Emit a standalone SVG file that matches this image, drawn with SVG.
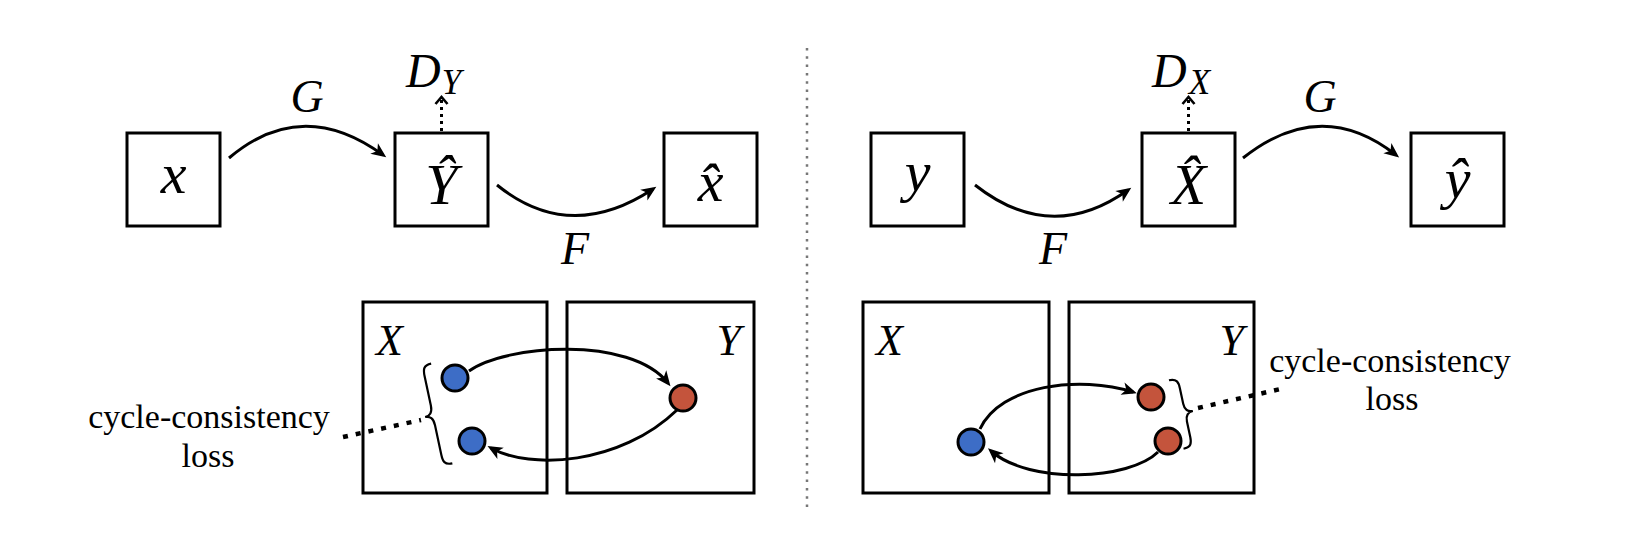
<svg xmlns="http://www.w3.org/2000/svg" width="1648" height="536" viewBox="0 0 1648 536">
<style>
.box{fill:none;stroke:#000;stroke-width:3}
.m{font-family:"Liberation Serif",serif;font-style:italic;fill:#000}
.big{font-size:58px}
.lab{font-size:46px}
.dl{font-size:48px}
.dom{font-size:44px}
.sub{font-size:35px}
.txt{font-family:"Liberation Serif",serif;font-size:34px;fill:#000}
.arr{fill:none;stroke:#000;stroke-width:3}
.dot{fill:none;stroke:#000;stroke-width:3;stroke-dasharray:3 4}
.loss{fill:none;stroke:#000;stroke-width:4.5;stroke-dasharray:5 8}
.brace{fill:none;stroke:#000;stroke-width:2.2}
.blue{fill:#3d6dc6;stroke:#000;stroke-width:3}
.red{fill:#c4543c;stroke:#000;stroke-width:3}
</style>
<defs>
<marker id="ah" markerUnits="userSpaceOnUse" viewBox="-13 -8 18 16" refX="0" refY="0" markerWidth="18" markerHeight="16" orient="auto">
<path d="M4,0 L-11,-6.5 L-7,0 L-11,6.5 Z" fill="#000"/>
</marker>
<marker id="oh" markerUnits="userSpaceOnUse" viewBox="-10 -8 14 16" refX="0" refY="0" markerWidth="14" markerHeight="16" orient="auto">
<path d="M-6,-6 L1,0 L-6,6" fill="none" stroke="#000" stroke-width="2.6"/>
</marker>
</defs>

<g id="node-x"><rect class="box" x="127" y="133" width="93" height="93"/><text class="m big" x="173.5" y="193" text-anchor="middle">x</text></g>
<g id="node-Yhat"><rect class="box" x="395" y="133" width="93" height="93"/><text class="m big" x="441.5" y="204" text-anchor="middle">Ŷ</text></g>
<g id="node-xhat"><rect class="box" x="664" y="133" width="93" height="93"/><text class="m big" x="710.5" y="201" text-anchor="middle">x̂</text></g>
<g id="node-y"><rect class="box" x="871" y="133" width="93" height="93"/><text class="m big" x="917.5" y="191" text-anchor="middle">y</text></g>
<g id="node-Xhat"><rect class="box" x="1142" y="133" width="93" height="93"/><text class="m big" x="1188.5" y="204" text-anchor="middle">X̂</text></g>
<g id="node-yhat"><rect class="box" x="1411" y="133" width="93" height="93"/><text class="m big" x="1457.5" y="198" text-anchor="middle">ŷ</text></g>

<g id="labels">
<text class="m lab" x="307" y="112" text-anchor="middle">G</text>
<text class="m lab" x="575" y="264" text-anchor="middle">F</text>
<text class="m dl" x="406" y="87">D<tspan class="sub" dx="1" dy="7">Y</tspan></text>
<text class="m lab" x="1053" y="264" text-anchor="middle">F</text>
<text class="m dl" x="1152" y="87">D<tspan class="sub" dx="2" dy="7">X</tspan></text>
<text class="m lab" x="1320" y="112" text-anchor="middle">G</text>
</g>

<g id="domain-X-left"><rect class="box" x="363" y="302" width="184" height="191"/><text class="m dom" x="376" y="355">X</text></g>
<g id="domain-Y-left"><rect class="box" x="567" y="302" width="187" height="191"/><text class="m dom" x="741" y="355" text-anchor="end">Y</text></g>
<g id="domain-X-right"><rect class="box" x="863" y="302" width="186" height="191"/><text class="m dom" x="876" y="355">X</text></g>
<g id="domain-Y-right"><rect class="box" x="1069" y="302" width="185" height="191"/><text class="m dom" x="1244" y="355" text-anchor="end">Y</text></g>

<g id="connectors">
<path class="arr" d="M229,158 Q302,96 383,155" marker-end="url(#ah)"/>
<path class="arr" d="M497,185 Q570,244 653,189" marker-end="url(#ah)"/>
<path class="dot" d="M441.5,131 L441.5,98" marker-end="url(#oh)"/>
<path class="arr" d="M975,185 Q1051,245 1128,190" marker-end="url(#ah)"/>
<path class="dot" d="M1188.5,131 L1188.5,98" marker-end="url(#oh)"/>
<path class="arr" d="M1243,158 Q1321,96 1396,155" marker-end="url(#ah)"/>
<path d="M807,48 L807,510" fill="none" stroke="#777" stroke-width="2.5" stroke-dasharray="2.5 5.8"/>
<path class="arr" d="M469,371 C505,345 630,335 668,383" marker-end="url(#ah)"/>
<path class="arr" d="M677,410 C620,465 530,470 491,448" marker-end="url(#ah)"/>
<path class="arr" d="M980,429 C1000,385 1080,375 1133,392" marker-end="url(#ah)"/>
<path class="arr" d="M1158,452 C1130,480 1030,485 991,451" marker-end="url(#ah)"/>
<path class="loss" d="M343,437 L421,420"/>
<path class="loss" d="M1198,408 L1285,388"/>
</g>

<g id="points-left">
<circle class="blue" cx="455" cy="378" r="13"/>
<circle class="blue" cx="472" cy="441" r="13"/>
<circle class="red" cx="683" cy="398" r="13"/>
</g>
<g id="points-right">
<circle class="blue" cx="971" cy="442" r="13"/>
<circle class="red" cx="1151" cy="397" r="13"/>
<circle class="red" cx="1168" cy="441" r="13"/>
</g>

<g id="brace-left" transform="translate(430,416) rotate(-12)">
<path class="brace" d="M12,-51 C4,-51 3,-47 3,-40 L3,-10 C3,-3 0,0 -5,0 C0,0 3,3 3,10 L3,40 C3,47 4,51 12,51"/>
</g>
<g id="brace-right" transform="translate(1188,412) rotate(-12)">
<path class="brace" d="M-12,-35 C-4,-35 -3,-31 -3,-25 L-3,-9 C-3,-3 0,0 5,0 C0,0 -3,3 -3,9 L-3,25 C-3,31 -4,35 -12,35"/>
</g>

<g id="loss-left">
<text class="txt" x="209" y="428" text-anchor="middle">cycle-consistency</text>
<text class="txt" x="208" y="467" text-anchor="middle">loss</text>
</g>
<g id="loss-right">
<text class="txt" x="1390" y="372" text-anchor="middle">cycle-consistency</text>
<text class="txt" x="1392" y="410" text-anchor="middle">loss</text>
</g>
</svg>
